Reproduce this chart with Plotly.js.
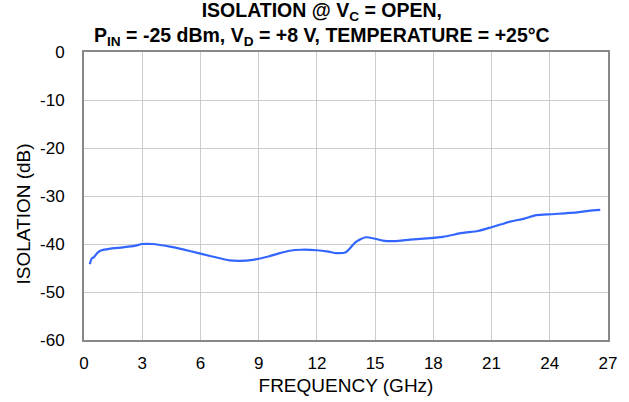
<!DOCTYPE html>
<html><head><meta charset="utf-8">
<script src="https://cdn.plot.ly/plotly-3.0.1.min.js"></script>
<style>html,body{margin:0;padding:0;background:#fff;}#chart{width:629px;height:402px;}</style>
</head><body><div id="chart"></div>
<script>
const freqGHz = [0.3, 0.4, 0.5, 0.7, 0.9, 1.3, 2.0, 2.6, 3.0, 3.5, 4.5, 5.5, 6.5, 7.5, 8.0, 8.7, 9.5, 10.0, 10.6, 11.2, 12.0, 12.6, 13.0, 13.5, 14.0, 14.5, 15.0, 15.4, 16.0, 16.8, 17.5, 18.5, 19.5, 20.3, 21.0, 21.5, 22.0, 22.7, 23.3, 24.1, 24.8, 25.4, 26.0, 26.6];
const isolationDb = [-44.2, -43.0, -42.8, -41.8, -41.3, -41.0, -40.7, -40.4, -40.0, -40.0, -40.6, -41.5, -42.5, -43.4, -43.5, -43.3, -42.6, -42.0, -41.4, -41.2, -41.3, -41.6, -41.9, -41.7, -39.6, -38.6, -38.9, -39.3, -39.4, -39.1, -38.9, -38.5, -37.7, -37.3, -36.5, -35.9, -35.3, -34.7, -34.0, -33.8, -33.6, -33.4, -33.1, -32.9];
const xTicks = [0, 3, 6, 9, 12, 15, 18, 21, 24, 27];
const yTicks = [0, -10, -20, -30, -40, -50, -60];
const titleLines = ['ISOLATION @ V<sub>C</sub> = OPEN,', 'P<sub>IN</sub> = -25 dBm, V<sub>D</sub> = +8 V, TEMPERATURE = +25°C'];
const yTitle = 'ISOLATION (dB)';
const xTitle = 'FREQUENCY (GHz)';

const font = {family: 'Liberation Sans, Arial, sans-serif', color: '#000'};
Plotly.newPlot('chart', [{
  x: freqGHz, y: isolationDb, type: 'scatter', mode: 'lines',
  line: {color: '#3366ff', width: 2.2, shape: 'spline', smoothing: 0.6},
  hoverinfo: 'skip'
}], {
  width: 629, height: 402,
  margin: {l: 83.5, r: 21, t: 52, b: 62},
  paper_bgcolor: '#fff', plot_bgcolor: '#fff',
  showlegend: false,
  annotations: [
    {text: '<b>' + titleLines.join('<br>') + '</b>', xref: 'paper', yref: 'paper', x: 0.455, y: 1, yshift: 52 - 24,
     xanchor: 'center', yanchor: 'middle', align: 'center', showarrow: false, font: Object.assign({}, font, {size: 19.5})},
    {text: yTitle, xref: 'paper', yref: 'paper', x: 0, xshift: -61.5, y: 0.4375, yshift: 0,
     xanchor: 'center', yanchor: 'middle', textangle: -90, showarrow: false, font: Object.assign({}, font, {size: 19})}
  ],
  xaxis: {
    range: [0, 27], tickvals: xTicks, ticktext: xTicks.map(String),
    showgrid: true, gridcolor: '#cccccc', gridwidth: 1,
    showline: true, linecolor: '#888888', linewidth: 2, mirror: true,
    zeroline: false, ticks: '', ticklabelstandoff: 7,
    tickfont: Object.assign({}, font, {size: 17}),
    title: {text: xTitle, font: Object.assign({}, font, {size: 19}), standoff: 6}
  },
  yaxis: {
    range: [-60, 0], tickvals: yTicks, ticktext: yTicks.map(String),
    showgrid: true, gridcolor: '#cccccc', gridwidth: 1,
    showline: true, linecolor: '#888888', linewidth: 2, mirror: true,
    zeroline: false, ticks: '', ticklabelstandoff: 14,
    tickfont: Object.assign({}, font, {size: 17})
  }
}, {displayModeBar: false, staticPlot: true});
</script></body></html>
